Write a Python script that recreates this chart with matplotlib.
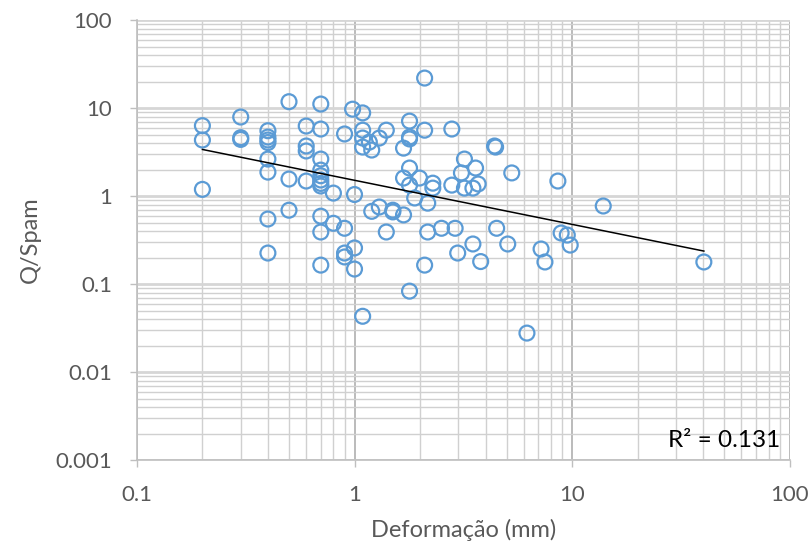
import numpy as np
import matplotlib
matplotlib.use("Agg")
import matplotlib.pyplot as plt
from matplotlib.ticker import LogLocator, FixedLocator, FixedFormatter, NullFormatter

# Deformation (mm) and Q/Spam for each measurement
deformacao = [
    0.2, 0.2, 0.2,
    0.3, 0.3, 0.3,
    0.4, 0.4, 0.4, 0.4, 0.4, 0.4, 0.4, 0.4,
    0.5, 0.5, 0.5,
    0.6, 0.6, 0.6, 0.6,
    0.7, 0.7, 0.7, 0.7, 0.7, 0.7, 0.7, 0.7, 0.7, 0.7, 0.7,
    0.8, 0.8,
    0.9, 0.9, 0.9, 0.9,
    0.98, 1.0, 1.0, 1.0,
    1.09, 1.09, 1.09, 1.09, 1.09,
    1.17, 1.2, 1.2,
    1.3, 1.3,
    1.4, 1.4,
    1.5, 1.5,
    1.68, 1.68, 1.68,
    1.79, 1.79, 1.79, 1.79, 1.79, 1.79,
    1.89, 1.99,
    2.1, 2.1, 2.1,
    2.17, 2.17,
    2.29, 2.29,
    2.51, 2.8, 2.8, 2.9, 2.98,
    3.1, 3.2, 3.2,
    3.5, 3.5, 3.6, 3.7, 3.8,
    4.4, 4.45, 4.5,
    5.06, 5.28, 6.2,
    7.2, 7.5,
    8.6, 8.9, 9.5, 9.8,
    13.9, 40.3,
]
q_spam = [
    6.3, 4.33, 1.19,
    7.9, 4.6, 4.4,
    5.52, 4.68, 4.33, 4.05, 2.63, 1.87, 0.548, 0.225,
    11.8, 1.56, 0.69,
    6.24, 3.7, 3.25, 1.48,
    11.1, 5.77, 2.63, 1.97, 1.70, 1.52, 1.39, 1.30, 0.59, 0.39, 0.164,
    1.08, 0.49,
    5.07, 0.43, 0.225, 0.203,
    9.7, 1.04, 0.257, 0.148,
    8.8, 5.6, 4.56, 3.6, 0.043,
    4.1, 3.33, 0.67,
    4.56, 0.75,
    5.6, 0.39,
    0.69, 0.66,
    3.5, 1.6, 0.61,
    7.1, 4.68, 4.45, 2.08, 1.33, 0.083,
    0.95, 1.6,
    21.9, 5.6, 0.164,
    0.83, 0.39,
    1.4, 1.23,
    0.43, 5.77, 1.33, 0.43, 0.225,
    1.83, 2.63, 1.23,
    1.23, 0.285, 2.08, 1.37, 0.18,
    3.7, 3.6, 0.43,
    0.285, 1.83, 0.0277,
    0.25, 0.178,
    1.48, 0.38, 0.36, 0.277,
    0.77, 0.178,
]

x_ticks = [0.1, 1, 10, 100]
x_tick_labels = ["0.1", "1", "10", "100"]
y_ticks = [0.001, 0.01, 0.1, 1, 10, 100]
y_tick_labels = ["0.001", "0.01", "0.1", "1", "10", "100"]
r2_label = "R² = 0.131"

x = np.array(deformacao)
y = np.array(q_spam)

# Power trendline y = a * x^b fitted in log-log space
b, log_a = np.polyfit(np.log10(x), np.log10(y), 1)
x_fit = np.array([x.min(), x.max()])
y_fit = 10 ** log_a * x_fit ** b

plt.rcParams["font.family"] = ["Lato", "DejaVu Sans"]

fig = plt.figure(figsize=(8.1, 5.5), dpi=100)
ax = fig.add_axes([0.169, 0.1636, 0.806, 0.8])

ax.set_xscale("log")
ax.set_yscale("log")
ax.set_xlim(0.1, 100)
ax.set_ylim(0.001, 100)

minor_color = "#D0D0D0"
ax.xaxis.set_minor_locator(LogLocator(base=10, subs=np.arange(2, 10)))
ax.yaxis.set_minor_locator(LogLocator(base=10, subs=np.arange(2, 10)))
ax.xaxis.set_minor_formatter(NullFormatter())
ax.yaxis.set_minor_formatter(NullFormatter())
ax.xaxis.set_major_locator(FixedLocator(x_ticks))
ax.xaxis.set_major_formatter(FixedFormatter(x_tick_labels))
ax.yaxis.set_major_locator(FixedLocator(y_ticks))
ax.yaxis.set_major_formatter(FixedFormatter(y_tick_labels))

ax.grid(which="minor", axis="both", color=minor_color, linewidth=1.0)
ax.grid(which="major", axis="x", color="#A8A8A8", linewidth=1.1)
ax.grid(which="major", axis="y", color="#D6D6D6", linewidth=2.0)
ax.set_axisbelow(True)

for side in ("top", "right"):
    ax.spines[side].set_visible(False)
for side in ("left", "bottom"):
    ax.spines[side].set_color("#BFBFBF")
    ax.spines[side].set_linewidth(1.2)

ax.tick_params(which="major", length=5, width=1, color="#BFBFBF",
               labelsize=16, labelcolor="#595959")
ax.tick_params(axis="x", which="major", pad=13)
ax.tick_params(axis="y", which="major", pad=13)
ax.tick_params(which="minor", length=0)

ax.scatter(x, y, s=115, facecolors="none", edgecolors="#5B9BD5",
           linewidths=1.6, zorder=3)
ax.plot(x_fit, y_fit, color="black", linewidth=1.1, zorder=4)

ax.text(0.985, 0.045, r2_label, transform=ax.transAxes, ha="right",
        va="center", fontsize=17.5, color="black")

ax.set_xlabel("Deformação (mm)", fontsize=17, color="#595959", labelpad=10)
ax.set_ylabel("Q/Spam", fontsize=17, color="#595959", labelpad=10)

fig.savefig("out.png", dpi=100)
